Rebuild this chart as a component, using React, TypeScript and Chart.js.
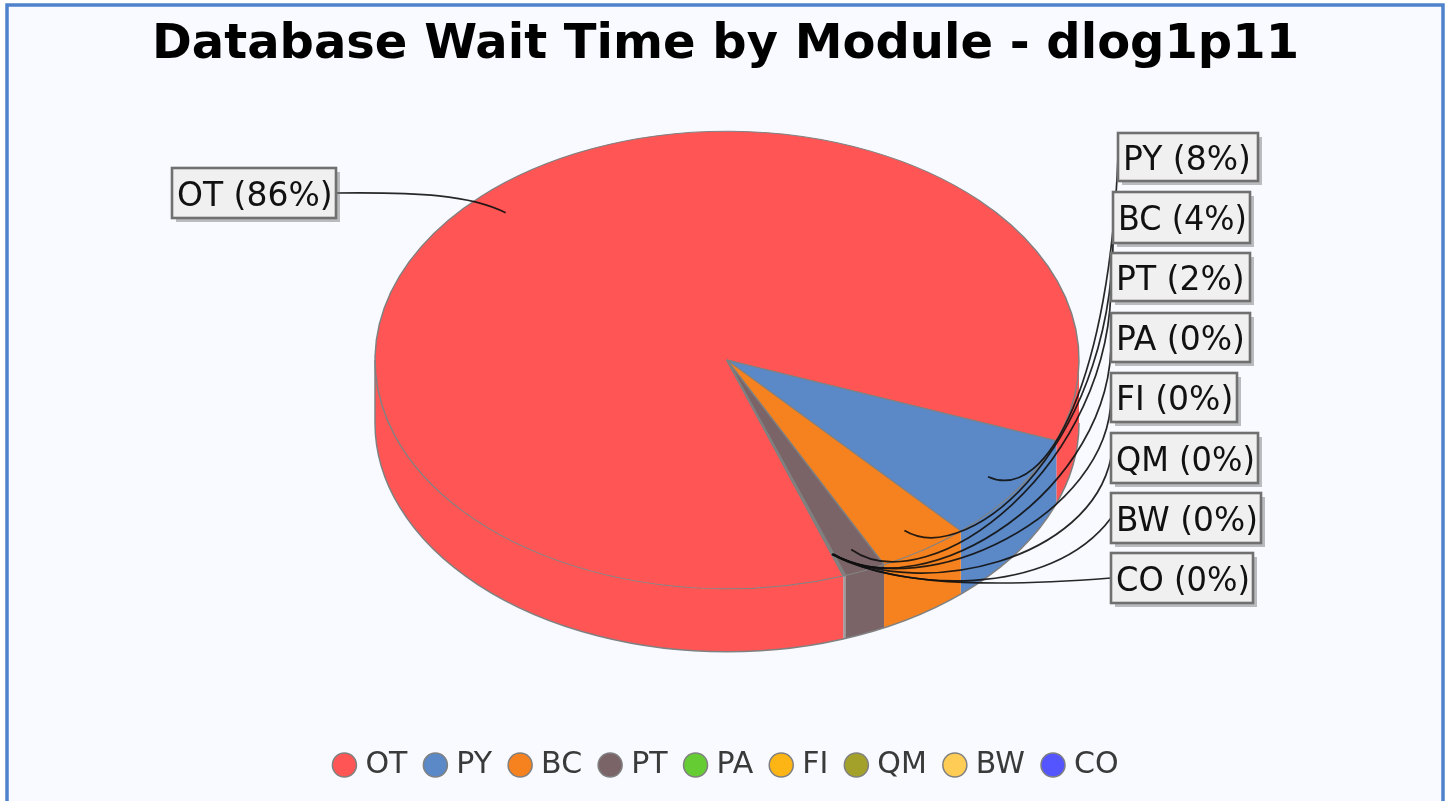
import React, { useEffect, useRef } from "react";
import { Chart, registerables } from "chart.js";

Chart.register(...registerables);

const categories = ["OT", "PY", "BC", "PT", "PA", "FI", "QM", "BW", "CO"];
const shares = [86.1, 7.7, 4.2, 1.9, 0.03, 0.03, 0.02, 0.01, 0.01];
const percentTexts = ["86%", "8%", "4%", "2%", "0%", "0%", "0%", "0%", "0%"];
const colors = ["#FF5555", "#5B88C6", "#F5821F", "#7B6468", "#66CC33", "#FDB515", "#A4A12A", "#FFCC55", "#5555FF"];
const titleText = "Database Wait Time by Module - dlog1p11";

// layout of the label boxes: left, right, top, bottom
const boxLeft = [172, 1118, 1113, 1111, 1111, 1111, 1111, 1111, 1111];
const boxRight = [336, 1258, 1250, 1250, 1250, 1237, 1258, 1261, 1253];
const boxTop = [168, 133, 192, 253, 313, 373, 433, 493, 553];
const boxBottom = [218, 181, 243, 301, 362, 422, 483, 543, 603];
// leader-line bend handles
const bendA = [[470, 195], [1050, 505], [970, 570], [930, 605], [925, 610], [925, 605], [925, 600], [900, 590], [880, 580]];
const bendB = [[420, 192], [1110, 370], [1120, 440], [1115, 465], [1115, 490], [1110, 515], [1090, 560], [1050, 600], [960, 590]];

const CX = 727, CY = 360, RADIUS = 352, SQUASH = 0.65, DEPTH = 63;
const OUTLINE = "#808080";
const LABEL_FONT = "33px 'DejaVu Sans'";

const squashTransform = (ctx: CanvasRenderingContext2D, arc: any) => {
  ctx.translate(CX, CY);
  ctx.scale(1, SQUASH);
  ctx.translate(-arc.x, -arc.y);
};

const pie3d = {
  id: "pie3d",
  afterLayout(chart: any) {
    chart.legend.left += 4;
    chart.legend.right += 4;
    chart.titleBlock.left += 1;
    chart.titleBlock.right += 1;
  },
  beforeDraw(chart: any) {
    const { ctx, width, height } = chart;
    ctx.save();
    ctx.fillStyle = "#ffffff";
    ctx.fillRect(0, 0, width, height);
    ctx.fillStyle = "#F8FAFF";
    ctx.strokeStyle = "#4F82CC";
    ctx.lineWidth = 3.5;
    ctx.beginPath();
    ctx.rect(7, 5, 1436, height + 20);
    ctx.fill();
    ctx.stroke();
    ctx.restore();
  },
  beforeDatasetsDraw(chart: any) {
    const { ctx } = chart;
    const arcs = chart.getDatasetMeta(0).data;
    ctx.save();
    const rx = RADIUS, ry = RADIUS * SQUASH;
    arcs.forEach((arc: any, i: number) => {
      for (const shift of [0, Math.PI * 2, -Math.PI * 2]) {
        const a = Math.max(arc.startAngle + shift, 0);
        const b = Math.min(arc.endAngle + shift, Math.PI);
        if (b <= a) continue;
        ctx.beginPath();
        ctx.ellipse(CX, CY, rx, ry, 0, a, b);
        ctx.ellipse(CX, CY + DEPTH, rx, ry, 0, b, a, true);
        ctx.closePath();
        ctx.fillStyle = shares[i] >= 1 ? colors[i] : OUTLINE;
        ctx.fill();
      }
    });
    ctx.beginPath();
    ctx.ellipse(CX, CY + DEPTH, rx, ry, 0, 0, Math.PI);
    ctx.strokeStyle = OUTLINE;
    ctx.lineWidth = 1.5;
    ctx.stroke();
    ctx.beginPath();
    ctx.moveTo(CX - rx, CY);
    ctx.lineTo(CX - rx, CY + DEPTH);
    ctx.stroke();
    ctx.restore();
    ctx.save();
    squashTransform(ctx, arcs[0]);
  },
  afterDatasetsDraw(chart: any) {
    const { ctx } = chart;
    ctx.restore();
    const arcs = chart.getDatasetMeta(0).data;
    ctx.save();
    ctx.lineWidth = 1.7;
    ctx.strokeStyle = "rgba(15,15,15,0.9)";
    arcs.forEach((arc: any, i: number) => {
      const mid = (arc.startAngle + arc.endAngle) / 2;
      const sx = CX + Math.cos(mid) * arc.outerRadius * 0.9;
      const sy = CY + Math.sin(mid) * arc.outerRadius * 0.9 * SQUASH;
      const tx = i === 0 ? boxRight[i] : boxLeft[i];
      const ty = (boxTop[i] + boxBottom[i]) / 2;
      ctx.beginPath();
      ctx.moveTo(sx, sy);
      ctx.bezierCurveTo(bendA[i][0], bendA[i][1], bendB[i][0], bendB[i][1], tx, ty);
      ctx.stroke();
    });
    ctx.font = LABEL_FONT;
    ctx.textBaseline = "middle";
    categories.forEach((cat, i) => {
      const text = `${cat} (${percentTexts[i]})`;
      const x = boxLeft[i], y = boxTop[i], w = boxRight[i] - x, h = boxBottom[i] - y;
      ctx.fillStyle = "rgba(110,110,110,0.45)";
      ctx.fillRect(x + 4, y + 4, w, h);
      ctx.fillStyle = "#F0F0F0";
      ctx.fillRect(x, y, w, h);
      ctx.strokeStyle = "#707070";
      ctx.lineWidth = 2.6;
      ctx.strokeRect(x, y, w, h);
      ctx.fillStyle = "#111111";
      ctx.fillText(text, x + 5, y + h / 2 + 4, w - 8);
    });
    ctx.restore();
  },
};

export default function App() {
  const ref = useRef<HTMLCanvasElement>(null);
  useEffect(() => {
    const chart = new Chart(ref.current!, {
      type: "pie",
      data: {
        labels: categories,
        datasets: [{
          data: shares,
          backgroundColor: colors,
          borderColor: OUTLINE,
          borderWidth: 1.5,
          radius: RADIUS,
          rotation: 160.7,
        }],
      },
      options: {
        responsive: false,
        animation: false,
        layout: { padding: { bottom: 11 } },
        plugins: {
          title: {
            display: true,
            text: titleText,
            color: "#000000",
            font: { family: "'DejaVu Sans'", size: 48, weight: "bold" },
            padding: { top: 17, bottom: 10 },
          },
          legend: {
            position: "bottom",
            labels: {
              usePointStyle: true,
              pointStyle: "circle",
              boxWidth: 12,
              boxHeight: 17,
              padding: 22,
              color: "#3A3A3A",
              font: { family: "'DejaVu Sans'", size: 30 },
            },
          },
          tooltip: { enabled: false },
        },
      },
      plugins: [pie3d],
    } as any);
    return () => chart.destroy();
  }, []);
  return (
    <div style={{ position: "fixed", left: 0, top: 0, width: 1449, height: 801, overflow: "hidden" }}>
      <canvas ref={ref} width={1449} height={801} style={{ display: "block", filter: "blur(0.7px)" }} />
    </div>
  );
}
